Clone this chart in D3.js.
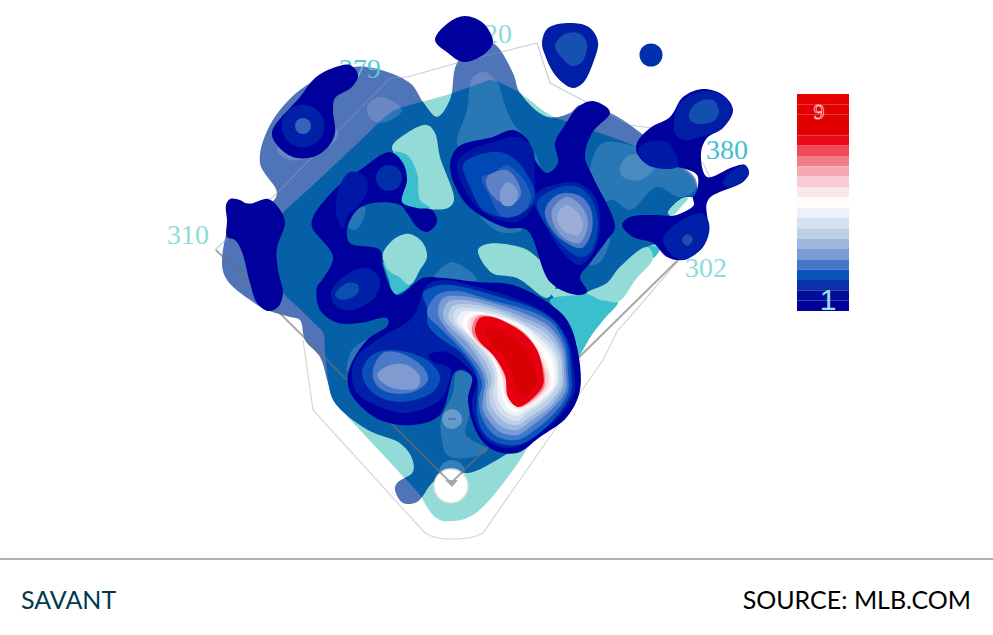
<!DOCTYPE html>
<html><head><meta charset="utf-8">
<script src="https://cdn.jsdelivr.net/npm/d3@7/dist/d3.min.js"></script>
<style>html,body{margin:0;padding:0;background:#fff}svg{display:block}</style>
</head><body><svg id="c" width="993" height="635"></svg>
<script>
// Field coordinates: feet-like units from home plate (+x toward right field, +y toward centre field).
const fairZone=[[0,-38],[-8,-38],[-16,-34],[-24,-24],[-31,-12],[-40,-2],[-105,68],[-116,80],[-121,90],[-123,103],[-126,130],[-128,151],[-135,158],[-150,173],[-169,191],[-174,200],[-174,213],[-174,243],[-173,258],[-168,270],[-160,278],[-140,296],[-90,343],[-61,370],[-51,375],[-30,381],[2,390],[30,400],[39,403],[47,401],[69,390],[99,368],[120,360],[146,351],[186,336],[239,308],[246,293],[241,268],[228,252],[209,235],[195,217],[166,181],[142,150],[126,125],[100,78],[71,26],[50,-3],[34,-22],[22,-32],[10,-37]];
const hitEnvelope=[[-56,-7],[-48,-20],[-34,-19],[-19,0],[0,13],[17,10],[49,25],[89,53],[124,93],[119,163],[99,193],[136,191],[156,200],[169,216],[196,236],[214,243],[239,268],[246,288],[244,305],[229,318],[179,358],[159,370],[129,378],[119,370],[96,366],[69,390],[62,410],[42,440],[27,438],[6,420],[-1,383],[-14,366],[-28,381],[-41,400],[-84,416],[-111,413],[-151,393],[-181,358],[-191,320],[-174,290],[-183,278],[-211,278],[-229,223],[-224,203],[-198,181],[-184,173],[-161,166],[-151,163],[-146,143],[-131,126],[-123,100],[-116,80],[-83,53],[-51,40],[-39,25],[-38,11],[-54,0]];
// low-density gaps
const gapA=[[-59,336],[-44,350],[-24,358],[-16,350],[-11,326],[3,283],[-3,275],[-31,274],[-41,273],[-49,281],[-44,303],[-51,321]];
const gapAEdge=[[-58,331],[-44,328],[-34,310],[-31,283],[-21,275],[-41,272],[-49,281],[-44,303],[-51,321]];
const gapB=[[-68,230],[-54,246],[-41,249],[-28,240],[-24,226],[-31,213],[-41,198],[-52,206],[-60,210],[-66,218]];
const gapBEdge=[[-68,221],[-62,203],[-58,188],[-51,190],[-41,198],[-52,206],[-60,210]];
const gapC=[[27,233],[36,239],[72,235],[89,223],[106,203],[102,191],[96,185],[66,205],[41,210]];
const gapD=[[99,183],[126,188],[136,190],[149,183],[167,181],[155,166],[142,150],[126,125],[126,138],[116,161]];
const gapDTip=[[196,236],[209,235],[202,225]];
const gapE=[[136,190],[156,200],[169,216],[196,236],[202,225],[185,204],[167,181],[149,185]];
const holeWhite=[[217,270],[232,285],[242,285],[243,278],[231,270],[221,267]];
const holeLens=[[217,270],[224,279],[232,285],[237,285],[229,275],[221,267]];
// slightly denser patches
const patch1=[[7,336],[16,373],[22,406],[34,411],[46,401],[54,378],[62,360],[79,340],[89,313],[84,308],[49,323]];
const patch2=[[-84,376],[-71,386],[-49,373],[-64,361],[-79,363]];
const patch3=[[-174,333],[-161,323],[-141,326],[-113,346],[-116,356],[-151,363]];
const patch4=[[142,326],[152,340],[186,336],[226,316],[244,310],[244,293],[229,286],[206,296],[179,273],[162,283],[146,280],[139,310]];
const patch4b=[[169,316],[179,328],[196,326],[204,316],[189,303],[172,306]];
const patch5=[[-104,258],[-99,271],[-86,276],[-89,261],[-96,253]];
const patch6=[[6,111],[19,108],[22,90],[17,63],[14,50],[21,43],[37,33],[16,25],[-4,28],[-9,43],[-10,63],[2,90]];
const patch7=[[-18,203],[1,221],[26,203]];
const patch8=[[-104,111],[-99,133],[-78,146],[-91,128]];
const patch9=[[132,218],[149,221],[159,245],[149,238]];
const patch10=[[29,268],[49,251],[71,253],[59,263]];
// dense lobes
const lobeTopLeft=[[-179,351],[-151,386],[-136,405],[-118,415],[-101,418],[-93,408],[-99,396],[-116,385],[-118,373],[-116,350],[-123,336],[-138,326],[-158,326],[-174,338]];
const lobeTop=[[-16,443],[-3,460],[14,467],[32,460],[42,441],[32,428],[12,421],[-3,430]];
const lobeLeft=[[-225,278],[-221,284],[-211,283],[-203,279],[-183,284],[-173,276],[-166,261],[-174,235],[-173,213],[-168,190],[-173,176],[-183,172],[-194,180],[-201,200],[-209,231],[-216,243],[-224,246],[-224,263]];
const lobeMid=[[-139,256],[-138,266],[-114,296],[-91,313],[-61,331],[-48,320],[-44,303],[-49,281],[-34,275],[-19,273],[-14,261],[-24,251],[-34,256],[-44,270],[-51,278],[-78,280],[-94,273],[-104,253],[-101,240],[-71,233],[-68,216],[-54,188],[-28,205],[-8,205],[26,201],[62,198],[96,181],[116,163],[126,136],[129,93],[116,66],[89,46],[66,30],[42,33],[26,50],[17,83],[21,106],[12,113],[4,111],[-11,68],[-38,58],[-71,63],[-96,83],[-103,98],[-101,116],[-84,143],[-63,158],[-64,165],[-91,160],[-113,160],[-131,173],[-134,196],[-129,203],[-118,226]];
const lobeMidA=[[-114,266],[-113,293],[-101,311],[-88,308],[-83,298],[-88,283],[-104,266],[-108,254]];
const lobeMidB=[[-120,190],[-108,206],[-84,215],[-71,203],[-76,186],[-98,173],[-114,176]];
const lobeMidC=[[-116,188],[-104,200],[-93,198],[-93,190],[-108,183]];
const lobeCenter=[[-1,316],[7,336],[42,346],[62,353],[77,343],[84,323],[96,310],[107,320],[104,340],[114,358],[127,376],[142,382],[159,371],[141,350],[134,326],[142,306],[164,256],[156,243],[139,220],[129,206],[136,191],[126,188],[99,201],[76,253],[56,255],[32,266],[12,283]];
const centerA1=[[6,320],[19,333],[42,341],[66,346],[81,336],[84,310],[84,293],[82,276],[66,261],[32,271],[14,293]];
const centerA2=[[12,318],[22,326],[49,331],[66,322],[78,305],[84,290],[78,275],[56,266],[32,273],[19,296]];
const centerA3=[[31,306],[42,310],[56,318],[67,310],[76,298],[80,285],[71,270],[52,266],[39,286]];
const centerA4=[[36,306],[56,313],[69,296],[69,286],[59,278],[46,283],[36,296]];
const centerA5=[[49,291],[57,301],[67,291],[62,278],[52,278]];
const centerB1=[[82,286],[102,298],[127,300],[144,286],[149,256],[142,230],[129,218],[112,230],[92,263]];
const centerB2=[[86,280],[106,295],[127,296],[141,283],[147,256],[139,230],[129,226],[109,240]];
const centerB3=[[94,273],[106,288],[127,288],[139,276],[141,253],[131,235],[114,241],[99,256]];
const centerB4=[[101,273],[116,286],[131,276],[137,260],[129,240],[116,243],[104,256]];
const centerB5=[[107,270],[116,278],[127,270],[132,258],[127,248],[116,250],[107,260]];
const lobeRight=[[186,340],[199,355],[219,366],[232,386],[252,394],[272,388],[282,373],[272,355],[256,345],[250,330],[256,306],[282,316],[294,318],[298,310],[292,301],[257,283],[257,256],[252,236],[232,223],[216,226],[202,240],[182,246],[171,258],[179,266],[206,268],[221,267],[231,270],[243,278],[242,285],[246,293],[246,308],[226,316],[199,317],[186,330]];
const rightA=[[187,333],[196,341],[216,341],[226,326],[226,316],[199,317]];
const rightB=[[223,360],[229,380],[252,392],[272,387],[281,373],[271,355],[249,346],[232,343],[224,350]];
const rightC=[[238,370],[247,381],[262,383],[268,373],[264,363],[247,359],[239,363]];
const rightArm=[[272,300],[282,313],[294,317],[298,310],[292,302],[279,296]];
const rightLow=[[212,243],[221,256],[249,270],[257,263],[258,250],[251,235],[232,223],[219,230]];
const rightLowC=[[231,243],[236,249],[242,244],[236,237]];
const topBlob=[[91,440],[97,455],[122,460],[139,455],[147,441],[142,420],[132,400],[122,395],[112,400],[102,411],[94,428]];
const topBlobC=[[104,436],[112,448],[127,450],[136,440],[131,421],[121,417],[111,425]];
// isolated spots: x, y, radius
const spotTopRight=[200,428,11.5];
const spotMid=[-62,305,13];
const spotLeftA=[-148,357,21.5];
const spotLeftB=[-148,357,8];
const spotFirst=[1,64,10];
const spotHomeGlow=[1,10,13];
const spotHome=[0,-3,17];
// main hot zone, outer to inner
const heat01=[[-99,108],[-93,128],[-71,145],[-38,166],[-24,198],[-8,203],[26,196],[58,187],[86,175],[104,163],[118,141],[123,111],[124,93],[112,71],[86,48],[66,36],[46,37],[29,51],[21,80],[26,103],[17,115],[-4,131],[-22,128],[-18,121],[-1,115],[-3,98],[-11,83],[-44,70],[-71,76],[-94,90]];
const heat02L=[[-89,110],[-79,128],[-58,133],[-24,123],[-11,106],[-18,91],[-51,81],[-78,90]];
const heat03L=[[-78,113],[-68,130],[-51,130],[-28,116],[-23,103],[-38,91],[-64,91],[-76,100]];
const heat04L=[[-74,108],[-61,118],[-44,118],[-31,106],[-34,95],[-61,96]];
const heat05=[[-24,175],[-28,190],[-11,198],[12,196],[52,185],[82,175],[102,163],[116,141],[120,111],[120,91],[109,71],[86,48],[66,38],[44,41],[32,51],[26,68],[26,85],[27,98],[24,111],[9,131],[-11,145],[-23,158]];
const heat06=[[-24,170],[-14,188],[6,192],[39,183],[76,173],[101,160],[114,138],[117,111],[117,91],[106,73],[84,53],[66,43],[47,46],[36,56],[29,71],[28,85],[31,98],[26,113],[9,135],[-9,153]];
const heat07=[[-13,170],[-8,185],[9,187],[42,180],[72,170],[99,156],[112,136],[115,111],[115,93],[102,75],[82,58],[66,48],[49,51],[39,61],[32,73],[32,86],[34,100],[29,115],[12,136],[-6,156]];
const heat08=[[-8,168],[-3,181],[12,183],[44,176],[71,166],[97,153],[110,133],[113,111],[112,95],[99,76],[81,63],[66,53],[51,56],[42,65],[36,75],[35,88],[37,101],[32,116],[16,140],[-3,158]];
const heat09=[[-3,166],[2,177],[16,179],[46,173],[69,163],[94,150],[108,131],[111,110],[110,96],[96,78],[79,66],[66,58],[54,61],[46,68],[40,77],[38,90],[41,103],[36,118],[19,141],[2,158]];
const heat10=[[2,165],[6,174],[19,175],[47,170],[69,160],[92,146],[105,130],[108,110],[107,98],[92,80],[77,70],[66,62],[56,65],[49,71],[44,80],[42,91],[44,105],[39,120],[22,143],[6,157]];
const heat11=[[6,163],[11,171],[22,172],[49,167],[72,158],[90,143],[103,128],[106,110],[105,98],[89,81],[76,73],[66,67],[57,70],[52,75],[47,83],[46,93],[46,106],[42,122],[26,143],[10,156]];
const heat12=[[12,161],[16,169],[27,171],[51,165],[72,155],[88,140],[100,126],[103,110],[102,97],[87,83],[74,76],[66,71],[59,73],[54,80],[51,88],[49,100],[47,111],[38,128],[26,140],[14,153]];
const heat13=[[16,158],[19,166],[32,169],[52,163],[71,153],[85,138],[95,120],[99,108],[99,96],[85,82],[69,74],[62,76],[56,83],[52,95],[50,108],[41,126],[27,138],[18,150]];
const heat14=[[19,156],[22,166],[36,168],[54,162],[72,152],[85,136],[93,117],[97,108],[96,96],[84,83],[68,75],[60,80],[55,88],[52,106],[42,127],[28,139],[21,149]];
const heat15=[[21,155],[26,166],[39,167],[55,161],[72,151],[85,135],[93,113],[94,103],[93,95],[83,84],[68,76],[58,84],[54,106],[42,128],[29,140],[22,148]];
const heat16=[[24,153],[29,165],[41,166],[56,160],[72,150],[86,133],[92,111],[92,98],[82,85],[67,76],[57,86],[54,108],[42,128],[29,141]];
const heat17=[[36,155],[49,151],[66,141],[79,125],[86,105],[82,91],[69,88],[62,108],[52,128],[39,141]];
// field outline
const fieldWall=[[-236,233],[-174,290],[-61,405],[-44,406],[6,420],[86,440],[99,400],[179,358],[201,355],[252,320],[259,306],[257,283],[227,223]];
const foulLeft=[[0,0],[-235,233]];
const foulRight=[[0,0],[227,223]];
const foulOuter=[[-148,143],[-138,73],[-26,-50],[-20,-53],[-12,-55],[-5,-56],[1,-56],[8,-56],[17,-55],[25,-53],[32,-50],[152,123],[167,153],[179,166],[226,221]];
// distance labels
const distanceText=["310","279","320","380","302"];
const distanceAt=[[-284,239],[-112,405],[19,440],[255,324],[234,206]];
// legend
const legendRows=d3.range(21);
const legendColors=["#e40000","#e20000","#e10000","#e40000","#ea0a1c","#ee4a58","#f27c88","#f5a8b2","#f9cbd2","#fbe7ea","#fffdf9","#eef1fa","#d5e0ee","#bcd0e6","#9fb8df","#7a9cd4","#4577c8","#0a55bb","#0a30ab","#000e9c","#000099"];
const legendText=["9","1"];
const footerLeft="SAVANT", footerRight="SOURCE: MLB.COM";

const svg=d3.select("#c");
const x=d3.scaleLinear().domain([-451,542]).range([0,993]);
const y=d3.scaleLinear().domain([483,-152]).range([0,635]);
const closed=d3.line().x(d=>x(d[0])).y(d=>y(d[1])).curve(d3.curveCatmullRomClosed.alpha(0.5));
const straight=d3.line().x(d=>x(d[0])).y(d=>y(d[1]));

const NAVY="#00009c",N1="#0018a6",N2="#0020a8",N3="#0048b4",N4="#1f5cbc",N5="#5d80c6",N6="#7f9bd0",N7="#9aaed8";
const TEAL="#93dbd6",TEAL2="#3bbfce",PERI="#4f74b8",BLUE="#0560a8";

function blob(pts,fill,op){return svg.append("path").attr("d",closed(pts)).attr("fill",fill).attr("fill-opacity",op==null?1:op);}
function spot(s,fill,op){return svg.append("circle").attr("cx",x(s[0])).attr("cy",y(s[1])).attr("r",s[2]).attr("fill",fill).attr("fill-opacity",op==null?1:op);}
function outline(pts,stroke,w,op){return svg.append("path").attr("d",straight(pts)).attr("fill","none").attr("stroke",stroke).attr("stroke-width",w).attr("stroke-opacity",op);}

svg.append("defs").append("clipPath").attr("id","env").append("path").attr("d",closed(hitEnvelope));
outline(foulOuter,"#d6d6d6",1.2,1);
blob(fairZone,TEAL);
blob(hitEnvelope,PERI);
blob(fairZone,BLUE).attr("clip-path","url(#env)");
[patch1,patch2,patch3,patch4,patch4b,patch5,patch6,patch7,patch8,patch9,patch10].forEach(p=>blob(p,"#fff",0.15));
blob(gapAEdge,TEAL2);blob(gapA,TEAL);blob(gapAEdge,TEAL2);
blob(gapBEdge,TEAL2);blob(gapB,TEAL);
blob(gapC,TEAL);
blob(gapD,TEAL2);blob(gapDTip,TEAL2);blob(gapE,TEAL);
blob(holeWhite,"#fff");blob(holeLens,TEAL);
spot(spotHomeGlow,"#fff",0.2);
spot(spotHome,"#fff").attr("stroke","#dedede").attr("stroke-width",1.5);
outline(fieldWall,"#8f9db3",1.1,0.5);
outline(foulLeft,"#707070",2,0.6);
outline(foulRight,"#707070",2,0.6);
svg.append("path").attr("d",straight([[-6,3],[7,3],[1,-4]])+"Z").attr("fill","#a8a8a8");
spot(spotFirst,"#fff",0.28);
svg.append("line").attr("x1",x(spotFirst[0]-4)).attr("x2",x(spotFirst[0]+4)).attr("y1",y(spotFirst[1])).attr("y2",y(spotFirst[1])).attr("stroke","#4a6fb0").attr("stroke-width",1.5);

const distColors=["#8fdbd8","#5cc8d3","#8fdbd8","#3fc0d0","#8fdbd8"];
svg.selectAll("text.dist").data(distanceText).join("text").attr("class","dist")
 .attr("x",(d,i)=>x(distanceAt[i][0])).attr("y",(d,i)=>y(distanceAt[i][1]))
 .attr("font-family","'Liberation Serif',serif").attr("font-size",28).attr("fill",(d,i)=>distColors[i]).text(d=>d);

[[lobeTopLeft,NAVY],[lobeTop,NAVY],[lobeLeft,NAVY],[lobeMid,NAVY],[lobeCenter,NAVY],[lobeRight,NAVY],[topBlob,"#001ea6"],
 [lobeMidA,N1],[lobeMidB,N2],[lobeMidC,"#0a50b3"],
 [centerA1,N1],[centerB1,N2],[centerA2,N3],[centerA3,N4],[centerA4,N5],[centerA5,N6],
 [centerB2,N3],[centerB3,"#5578c2"],[centerB4,N6],[centerB5,N7],
 [rightA,N1],[rightB,"#001fa5"],[rightC,"#134fb0"],[rightArm,N2],[rightLow,N2],[rightLowC,"#1e4fb0"],[topBlobC,"#1650b0"]
].forEach(l=>blob(l[0],l[1]));
spot(spotTopRight,"#0030ac");spot(spotMid,"#0030a8");spot(spotLeftA,"#0020a8");spot(spotLeftB,"#3366b8");

[[heat01,"#0020a8"],[heat02L,"#0a50b8"],[heat03L,"#4a7ac8"],[heat04L,"#7f9bd0"],
 [heat05,"#0a55bb"],[heat06,"#4577c8"],[heat07,"#7a9cd4"],[heat08,"#9fb8df"],[heat09,"#bcd0e6"],[heat10,"#d5e0ee"],[heat11,"#eef1fa"],[heat12,"#fffdf9"],[heat13,"#fbe7ea"],[heat14,"#f9cbd2"],[heat15,"#f27c88"],[heat16,"#e6000f"],[heat17,"#d80000"]
].forEach(l=>blob(l[0],l[1]));

// legend
const ly=d3.scaleBand().domain(legendRows).range([94,311]).padding(0);
svg.selectAll("rect.leg").data(legendRows).join("rect").attr("class","leg")
 .attr("x",797).attr("width",52).attr("y",d=>ly(d)).attr("height",ly.bandwidth()).attr("fill",d=>legendColors[d]);
svg.append("text").attr("x",819).attr("y",119).attr("text-anchor","middle").attr("font-family","'Liberation Serif',serif").attr("font-size",22).attr("fill","none").attr("stroke","#fff").attr("stroke-opacity",0.8).attr("stroke-width",0.8).text(legendText[0]);
svg.append("text").attr("x",828).attr("y",310).attr("text-anchor","middle").attr("font-family","'Liberation Sans',sans-serif").attr("font-size",30).attr("fill","#9fe0e8").text(legendText[1]);

// footer
svg.append("line").attr("x1",0).attr("x2",993).attr("y1",559).attr("y2",559).attr("stroke","#b0b0b0").attr("stroke-width",2);
svg.append("text").attr("x",21).attr("y",609).attr("font-family","Lato,sans-serif").attr("font-size",25).attr("fill","#003a4d").text(footerLeft);
svg.append("text").attr("x",971).attr("y",609).attr("text-anchor","end").attr("font-family","Lato,sans-serif").attr("font-size",25).attr("fill","#000").text(footerRight);
</script></body></html>
